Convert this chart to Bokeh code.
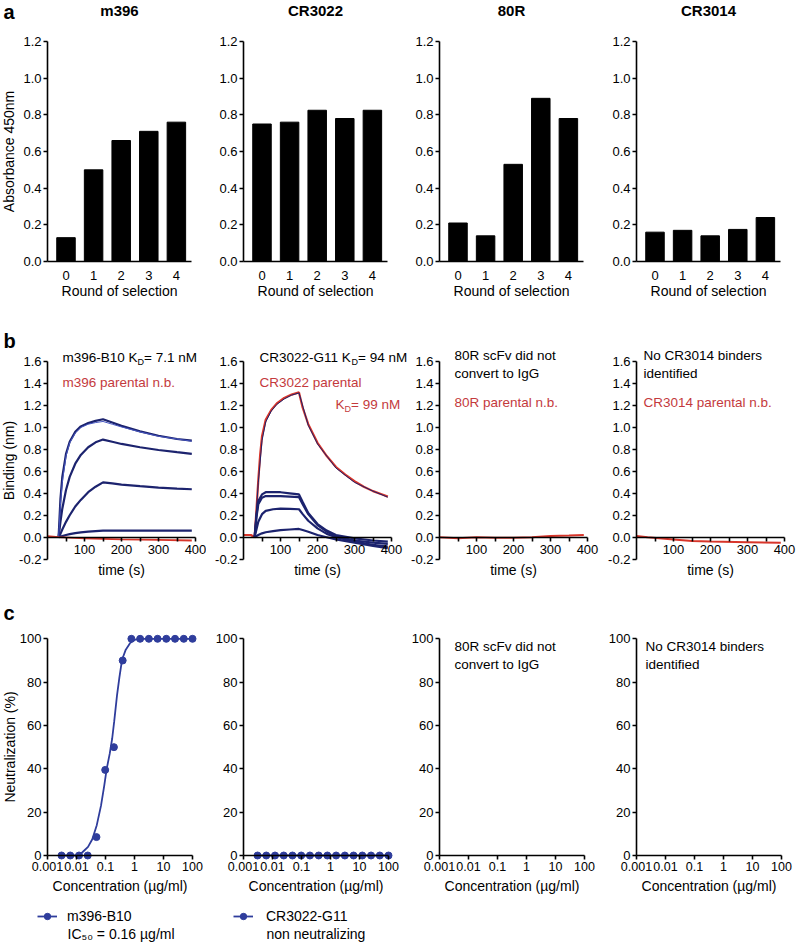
import math
from bokeh.plotting import figure
from bokeh.layouts import row, column
from bokeh.models import (Range1d, FixedTicker, PrintfTickFormatter, CustomJSTickFormatter,
                          Label, Legend, LegendItem)
from bokeh.embed import file_html
from bokeh.resources import INLINE

# ---------------- data ----------------
panel_names = ["m396", "CR3022", "80R", "CR3014"]
rounds = [0, 1, 2, 3, 4]
abs_m396 = [0.13, 0.50, 0.66, 0.71, 0.76]
abs_cr3022 = [0.75, 0.76, 0.825, 0.78, 0.825]
abs_80r = [0.21, 0.14, 0.53, 0.89, 0.78]
abs_cr3014 = [0.16, 0.17, 0.14, 0.175, 0.24]
abs_ticks = [0.0, 0.2, 0.4, 0.6, 0.8, 1.0, 1.2]

# BLI sensorgrams (time s, binding nm)
t_m396 = [30, 35, 40, 50, 60, 75, 90, 110, 130, 150, 175, 200, 250, 300, 350, 390]
m396_c1 = [0.0, 0.35, 0.55, 0.76, 0.87, 0.96, 1.01, 1.04, 1.06, 1.075, 1.045, 1.015, 0.965, 0.925, 0.895, 0.88]
m396_c1_fit = [0.0, 0.30, 0.50, 0.74, 0.86, 0.95, 1.00, 1.03, 1.045, 1.055, 1.03, 1.005, 0.96, 0.92, 0.895, 0.875]
m396_c2 = [0.0, 0.14, 0.26, 0.43, 0.55, 0.67, 0.75, 0.82, 0.865, 0.89, 0.87, 0.85, 0.82, 0.795, 0.775, 0.76]
m396_c3 = [0.0, 0.03, 0.07, 0.14, 0.20, 0.28, 0.34, 0.41, 0.46, 0.50, 0.49, 0.48, 0.465, 0.452, 0.443, 0.437]
m396_c4 = [0.0, 0.005, 0.01, 0.02, 0.028, 0.037, 0.044, 0.051, 0.056, 0.06, 0.06, 0.06, 0.06, 0.06, 0.06, 0.06]
t_m396_par = [0, 30, 100, 200, 300, 390]
m396_par = [0.01, 0.0, -0.01, -0.02, -0.025, -0.03]

t_cr_par = [0, 20, 30, 35, 40, 45, 50, 60, 75, 90, 110, 130, 150, 160, 175, 200, 225, 250, 275, 300, 325, 350, 375, 390]
cr_par = [0.02, 0.02, 0.0, 0.25, 0.52, 0.75, 0.92, 1.07, 1.16, 1.22, 1.27, 1.30, 1.32, 1.18, 1.03, 0.86, 0.74, 0.64, 0.57, 0.51, 0.46, 0.42, 0.39, 0.37]
t_cr_par_fit = [30, 40, 50, 60, 75, 90, 110, 130, 150, 175, 200, 250, 300, 350, 390]
cr_par_fit = [0.0, 0.50, 0.88, 1.05, 1.15, 1.21, 1.26, 1.295, 1.315, 1.02, 0.85, 0.63, 0.50, 0.42, 0.365]
t_cr = [30, 35, 40, 50, 60, 80, 100, 125, 150, 160, 175, 200, 225, 250, 300, 350, 390]
cr_c1 = [0.0, 0.20, 0.33, 0.39, 0.41, 0.41, 0.41, 0.40, 0.39, 0.32, 0.22, 0.12, 0.06, 0.02, -0.01, -0.03, -0.04]
cr_c2 = [0.0, 0.18, 0.30, 0.36, 0.375, 0.375, 0.375, 0.37, 0.365, 0.30, 0.21, 0.11, 0.05, 0.01, -0.03, -0.05, -0.06]
cr_c3 = [0.0, 0.07, 0.14, 0.21, 0.24, 0.255, 0.26, 0.258, 0.255, 0.21, 0.15, 0.08, 0.03, 0.0, -0.04, -0.07, -0.085]
cr_c4 = [0.0, 0.01, 0.02, 0.035, 0.045, 0.055, 0.065, 0.07, 0.075, 0.065, 0.05, 0.02, 0.0, -0.02, -0.05, -0.08, -0.10]

t_80r_par = [0, 50, 100, 150, 200, 250, 300, 350, 390]
r80_par = [0.0, -0.01, 0.0, -0.005, -0.005, 0.0, 0.01, 0.015, 0.02]
t_cr3014_par = [0, 30, 100, 150, 200, 300, 390]
cr3014_par = [0.01, 0.0, -0.02, -0.035, -0.04, -0.045, -0.05]

time_ticks = [100, 200, 300, 400]
time_minor = [50, 150, 250, 350]
bind_ticks = [-0.2, 0.0, 0.2, 0.4, 0.6, 0.8, 1.0, 1.2, 1.4, 1.6]

# Neutralization
conc = [0.00305, 0.0061, 0.0122, 0.0244, 0.0488, 0.0977, 0.195, 0.391, 0.781,
        1.5625, 3.125, 6.25, 12.5, 25, 50, 100]
neut_m396 = [0, 0, 0, 0, 8.5, 39.5, 50, 90, 100, 100, 100, 100, 100, 100, 100, 100]
neut_cr3022 = [0, 0, 0, 0, 0, 0, 0, 0, 0, 0, 0, 0, 0, 0, 0, 0]
fit_conc = [0.00305, 0.012, 0.016, 0.025, 0.035, 0.05, 0.07, 0.09, 0.11, 0.14, 0.17,
            0.2, 0.25, 0.3, 0.35, 0.4, 0.5, 0.7, 1.0, 1.5, 100]
fit_m396 = [0, 0, 1.5, 4, 7.5, 14, 23, 32, 40, 47, 54, 62, 74, 82, 88, 91.5, 95, 98, 99.5, 100, 100]
fit_cr3022_conc = [0.00305, 100]
fit_cr3022 = [0, 0]
conc_ticks = [0.001, 0.01, 0.1, 1, 10, 100]
neut_ticks = [0, 20, 40, 60, 80, 100]

# ---------------- layout / style ----------------
FONT = "Liberation Sans"
NAVY = "#1c236e"
FITBLUE = "#4656c0"
DOT = "#2f3d9c"
RED = "#d8352a"
REDTXT = "#c43a3d"
TXT = "13.5px"

COLS = [(0, 206), (206, 409), (409, 605), (605, 800)]   # page x extents of each figure
AXIS_X = [47, 243, 439, 636]                               # page x of each y-axis
ROWS = {"a": (0, 315), "b": (315, 600), "c": (600, 945)}   # page y extents of each row
# x: (value at the y-axis, px per unit) ; y: (page y of anchor, anchor value, px per unit)
XMAP = {"a": (-0.67, 27.6), "b": (0.0, 0.37), "c": (-3.0, 29.0)}
YMAP = {"a": (261.0, 0.0, 183.33), "b": (536.7, 0.0, 109.7), "c": (855.0, 0.0, 2.167)}
LOGX = {"a": False, "b": False, "c": True}


def page_to_data(col, rk, px, py):
    v0, ppu = XMAP[rk]
    xv = v0 + (px - AXIS_X[col]) / ppu
    if LOGX[rk]:
        xv = 10 ** xv
    ya, yv, yppu = YMAP[rk]
    yvv = yv + (ya - py) / yppu
    return xv, yvv


def make_fig(col, rk):
    L, R = COLS[col]
    T, B = ROWS[rk]
    x0, y0 = page_to_data(col, rk, L, B)
    x1, y1 = page_to_data(col, rk, R, T)
    p = figure(width=R - L, height=B - T, x_range=Range1d(x0, x1), y_range=Range1d(y0, y1),
               x_axis_type="log" if LOGX[rk] else "linear",
               output_backend="svg", toolbar_location=None, tools="",
               min_border_left=0, min_border_right=0, min_border_top=0, min_border_bottom=0)
    p.outline_line_color = None
    p.grid.visible = False
    p.background_fill_color = "white"
    p.border_fill_color = "white"
    for ax in p.axis:
        ax.axis_line_width = 1.6
        ax.axis_line_color = "black"
        ax.major_tick_line_width = 1.6
        ax.minor_tick_line_width = 1.6
        ax.major_tick_in = 0
        ax.major_tick_out = 4
        ax.minor_tick_in = 0
        ax.minor_tick_out = 0
        ax.major_label_text_font = FONT
        ax.major_label_text_font_size = "13px"
        ax.major_label_text_color = "black"
        ax.axis_label_text_font = FONT
        ax.axis_label_text_font_size = "14px"
        ax.axis_label_text_font_style = "normal"
        ax.axis_label_text_color = "black"
        ax.major_label_standoff = 2
        ax.axis_label_standoff = 3
    return p


def ann(p, col, rk, px, py, text, color="black", size=TXT, bold=False, align="left"):
    x, y = page_to_data(col, rk, px, py)
    p.add_layout(Label(x=x, y=y, text=text, text_font=FONT, text_font_size=size,
                       text_color=color, text_align=align, text_baseline="middle",
                       text_font_style="bold" if bold else "normal"))


def kd(p, col, rk, px, py, pre, post, pre_w, color="black"):
    ann(p, col, rk, px, py, pre, color=color)
    ann(p, col, rk, px + pre_w, py + 4, "D", color=color, size="9px")
    ann(p, col, rk, px + pre_w + 6.5, py, post, color=color)


# ---------------- row a: ELISA bars ----------------
abs_series = [abs_m396, abs_cr3022, abs_80r, abs_cr3014]
figs_a = []
for i, vals in enumerate(abs_series):
    p = make_fig(i, "a")
    p.vbar(x=rounds, top=vals, width=0.67, color="black")
    p.xaxis.fixed_location = 0
    p.xaxis.bounds = (-0.67, 4.55)
    p.xaxis.ticker = FixedTicker(ticks=rounds)
    p.xaxis.major_tick_out = 0
    p.xaxis.major_label_standoff = 9
    p.xaxis.axis_label = "Round of selection"
    p.xaxis.axis_label_standoff = 0
    p.yaxis.fixed_location = -0.67
    p.yaxis.bounds = (0, 1.2)
    p.yaxis.ticker = FixedTicker(ticks=abs_ticks)
    p.yaxis.formatter = PrintfTickFormatter(format="%.1f")
    if i == 0:
        p.yaxis.axis_label = "Absorbance 450nm"
        ann(p, 0, "a", 3, 11, "a", size="20px", bold=True)
    cx = AXIS_X[i] + 72
    ann(p, i, "a", cx, 10, panel_names[i], size="15px", bold=True, align="center")
    figs_a.append(p)

# ---------------- row b: BLI ----------------
figs_b = []
for i in range(4):
    p = make_fig(i, "b")
    p.xaxis.fixed_location = 0
    p.xaxis.bounds = (0, 400)
    p.xaxis.ticker = FixedTicker(ticks=time_ticks, minor_ticks=time_minor)
    p.xaxis.minor_tick_out = 4
    p.xaxis.major_label_standoff = 4
    p.xaxis.axis_label = "time (s)"
    p.xaxis.axis_label_standoff = 4
    p.yaxis.fixed_location = 0
    p.yaxis.bounds = (-0.2, 1.6)
    p.yaxis.ticker = FixedTicker(ticks=bind_ticks)
    p.yaxis.formatter = PrintfTickFormatter(format="%.1f")
    figs_b.append(p)

pb = figs_b[0]
pb.yaxis.axis_label = "Binding (nm)"
pb.yaxis.axis_label_standoff = -1
for ys in [m396_c1, m396_c2, m396_c3, m396_c4]:
    pb.line(t_m396, ys, line_color=NAVY, line_width=2.2)
pb.line(t_m396, m396_c1_fit, line_color=FITBLUE, line_width=1.0)
pb.line(t_m396_par, m396_par, line_color=RED, line_width=1.8)
ann(pb, 0, "b", 3, 340, "b", size="20px", bold=True)
kd(pb, 0, "b", 62, 357, "m396-B10 K", "= 7.1 nM", 75)
ann(pb, 0, "b", 62, 382, "m396 parental n.b.", color=REDTXT)

pb = figs_b[1]
pb.line(t_cr_par, cr_par, line_color=RED, line_width=2.2)
pb.line(t_cr_par_fit, cr_par_fit, line_color=NAVY, line_width=1.0)
for ys in [cr_c1, cr_c2, cr_c3, cr_c4]:
    pb.line(t_cr, ys, line_color=NAVY, line_width=2.2)
kd(pb, 1, "b", 259, 357, "CR3022-G11 K", "= 94 nM", 92)
ann(pb, 1, "b", 259, 382, "CR3022 parental", color=REDTXT)
kd(pb, 1, "b", 335, 404, "K", "= 99 nM", 9, color=REDTXT)

pb = figs_b[2]
pb.line(t_80r_par, r80_par, line_color=RED, line_width=2.0)
ann(pb, 2, "b", 454, 355, "80R scFv did not")
ann(pb, 2, "b", 454, 373, "convert to IgG")
ann(pb, 2, "b", 454, 402, "80R parental n.b.", color=REDTXT)

pb = figs_b[3]
pb.line(t_cr3014_par, cr3014_par, line_color=RED, line_width=2.0)
ann(pb, 3, "b", 643, 355, "No CR3014 binders")
ann(pb, 3, "b", 643, 373, "identified")
ann(pb, 3, "b", 643, 402, "CR3014 parental n.b.", color=REDTXT)

# ---------------- row c: neutralization ----------------
figs_c = []
for i in range(4):
    p = make_fig(i, "c")
    p.xaxis.fixed_location = 0
    p.xaxis.bounds = (0.001, 100)
    p.xaxis.ticker = FixedTicker(ticks=conc_ticks)
    p.xaxis.formatter = CustomJSTickFormatter(code="return String(tick)")
    p.xaxis.major_label_text_font_size = "12.5px"
    p.xaxis.major_label_standoff = 2
    p.xaxis.axis_label = "Concentration (µg/ml)"
    p.xaxis.axis_label_standoff = 4
    p.yaxis.fixed_location = 0.001
    p.yaxis.bounds = (0, 100)
    p.yaxis.ticker = FixedTicker(ticks=neut_ticks)
    figs_c.append(p)

pc = figs_c[0]
pc.yaxis.axis_label = "Neutralization (%)"
pc.yaxis.axis_label_standoff = -1
l1 = pc.line(fit_conc, fit_m396, line_color=DOT, line_width=1.8)
s1 = pc.scatter(conc, neut_m396, size=7, fill_color=DOT, line_color=DOT)
ann(pc, 0, "c", 3, 612, "c", size="20px", bold=True)
leg1 = Legend(items=[LegendItem(label="m396-B10", renderers=[l1, s1])],
              location=(37 - COLS[0][0], 945 - 923.5), label_standoff=10)
ann(pc, 0, "c", 67, 933, "IC₅₀ = 0.16 µg/ml", size="14px")

pc = figs_c[1]
l2 = pc.line(fit_cr3022_conc, fit_cr3022, line_color=DOT, line_width=1.8)
s2 = pc.scatter(conc, neut_cr3022, size=7, fill_color=DOT, line_color=DOT)
leg2 = Legend(items=[LegendItem(label="CR3022-G11", renderers=[l2, s2])],
              location=(233 - COLS[1][0], 945 - 923.5), label_standoff=13)
ann(pc, 1, "c", 266, 933, "non neutralizing", size="14px")

for pc, lg in [(figs_c[0], leg1), (figs_c[1], leg2)]:
    lg.border_line_color = None
    lg.background_fill_alpha = 0
    lg.padding = 0
    lg.margin = 0
    lg.spacing = 0
    lg.glyph_width = 20
    lg.glyph_height = 16
    lg.label_text_font = FONT
    lg.label_text_font_size = "14px"
    lg.label_text_color = "black"
    pc.add_layout(lg)

pc = figs_c[2]
ann(pc, 2, "c", 454, 646, "80R scFv did not")
ann(pc, 2, "c", 454, 664, "convert to IgG")
pc = figs_c[3]
ann(pc, 3, "c", 645, 646, "No CR3014 binders")
ann(pc, 3, "c", 645, 664, "identified")

layout = column(row(*figs_a), row(*figs_b), row(*figs_c))
open("out.html", "w").write(file_html(layout, INLINE, title="Figure"))
